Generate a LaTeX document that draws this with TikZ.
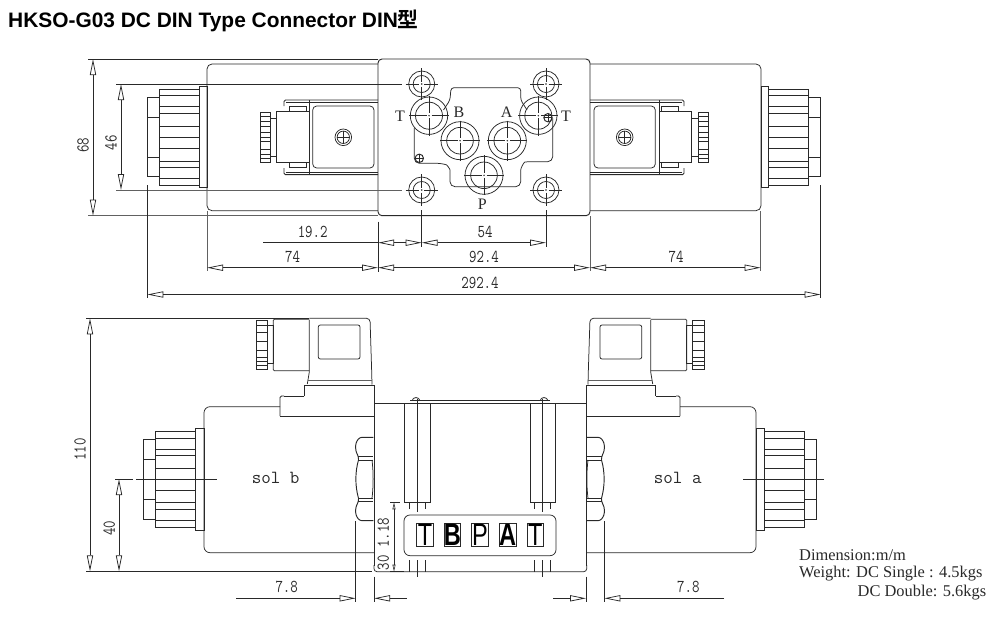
\documentclass[tikz,border=0pt]{standalone}
\usepackage{fontspec}
\usepackage{graphicx}
\usetikzlibrary{arrows.meta}
\setmainfont{Liberation Serif}
\newfontfamily\titlefont{Liberation Sans}[BoldFont={Liberation Sans Bold}]
\newfontfamily\cjkfont{Noto Sans CJK SC}[BoldFont={Noto Sans CJK SC Bold}]
\newfontfamily\platefont{Liberation Sans}[BoldFont={Liberation Sans Bold}]
\newfontfamily\dimfont{Latin Modern Mono}
\definecolor{ink}{gray}{0.16}
\definecolor{inkb}{gray}{0.38}
\newcommand{\HKtall}[1]{\scalebox{1}[1.25]{#1}}
\tikzset{
  ln/.style={draw=ink,line width=0.75pt},
  lg/.style={draw=inkb,line width=0.75pt},
  lt/.style={draw=ink,line width=0.95pt},
  dimboth/.style={draw=ink,line width=0.75pt,{Triangle[open,length=16pt,width=6.2pt]}-{Triangle[open,length=16pt,width=6.2pt]}},
  dimend/.style={draw=ink,line width=0.75pt,-{Triangle[open,length=16pt,width=6.2pt]}},
  dimsmall/.style={draw=ink,line width=0.6pt,{Triangle[open,length=7pt,width=3pt]}-{Triangle[open,length=7pt,width=3pt]}},
  dimtext/.style={font=\dimfont\fontsize{14.5}{15}\selectfont,text=ink,inner sep=0pt},
  soltext/.style={font=\dimfont\fontsize{18.5}{19}\selectfont,text=ink,inner sep=0pt},
  porttext/.style={font=\fontsize{16}{16}\selectfont,text=ink,inner sep=0pt},
  platecell/.style={draw=ink,line width=0.75pt,minimum width=16.7pt,minimum height=23.4pt,inner sep=0pt,outer sep=0pt},
  plateletter/.style={font=\platefont\fontsize{31}{31}\selectfont,text=black,inner sep=0pt,xscale=0.76,transform shape},
  notetext/.style={font=\fontsize{16.4}{17}\selectfont,text=ink,inner sep=0pt,anchor=base west},
}
\newcommand{\HKport}[5]{%
  \draw[ln] (#1,#2) circle (#3pt);
  \draw[ln] (#1,#2) circle (#4pt);
  \fill[ink] (#1,#2) circle (0.8pt);
  \draw[ln] (#1-#5,#2) -- (#1-2.5,#2) (#1+2.5,#2) -- (#1+#5,#2)
            (#1,#2-#5) -- (#1,#2-2.5) (#1,#2+2.5) -- (#1,#2+#5);
}
\newcommand{\HKtarget}[2]{%
  \draw[lt] (#1,#2) circle (4.2pt);
  \draw[lt] (#1-4.2,#2) -- (#1+4.2,#2) (#1,#2-4.2) -- (#1,#2+4.2);
}
% left half of the plan view; mirrored for the right half
\newcommand{\HKcoilTop}{%
  \draw[ln,rounded corners=5pt] (378,64) -- (207,64) -- (207,210.7) -- (378,210.7);
  \draw[ln] (199.3,86) rectangle (207,187.7);
  \draw[ln] (159.3,89.3) rectangle (199.3,185);
  \foreach \yy in {95,106,113.3,126,137.3,148.7,161,167.3,178.3} {\draw[ln] (159.3,\yy) -- (199.3,\yy);}
  \draw[lt] (159.3,113.3) -- (199.3,113.3);
  \draw[ln] (159.3,97.3) -- (147.3,97.3) -- (147.3,176.7) -- (159.3,176.7);
  \draw[ln] (147.3,117.3) -- (159.3,117.3) (147.3,157.3) -- (159.3,157.3);
  \draw[lt,rounded corners=1.5pt] (378,100) -- (284,100) -- (284,106);
  \draw[ln] (286,102.7) -- (378,102.7);
  \draw[lt,rounded corners=1.5pt] (378,174.7) -- (284,174.7) -- (284,168);
  \draw[ln] (286,172) -- (378,172);
  \draw[ln] (309,100) -- (309,174.7);
  \draw[ln,rounded corners=4pt] (312.7,106) rectangle (374,168);
  \draw[ln] (276.7,111.7) rectangle (309,162.7);
  \draw[ln] (289.3,106.7) rectangle (306.7,111.7);
  \draw[ln] (289.3,162.7) rectangle (306.7,167.7);
  \draw[ln] (270,118.3) rectangle (276.7,156);
  \draw[ln] (260,112.3) rectangle (270,162.3);
  \foreach \yy in {116,121.7,126.7,132.7,137.3,141.7,149,154,158.3} {\draw[ln] (260,\yy) -- (270,\yy);}
  \draw[ln] (343.3,137.3) circle (8.3pt);
  \draw[ln] (343.3,137.3) circle (6.2pt);
  \draw[ln] (337,137.3) -- (349.6,137.3) (343.3,131) -- (343.3,143.6);
}
% left half of the side view; mirrored for the right half
\newcommand{\HKcoilSide}{%
  \draw[ln,rounded corners=6pt] (280,406.7) -- (204,406.7) -- (204,552.7) -- (374,552.7);
  \draw[ln] (374,385) -- (304.3,385) -- (304.3,396);
  \draw[lt] (304.3,396) -- (284,396);
  \draw[ln,rounded corners=1.5pt] (284,396) -- (280,396) -- (280,416);
  \draw[lt] (280,416) -- (374,416);
  \draw[ln] (307.3,384) -- (309.3,372) -- (309.3,320);
  \draw[ln,rounded corners=3.5pt] (309.3,318.3) -- (370,318.3) -- (371.7,372) -- (372,384.5);
  \draw[lg] (308,380.7) -- (371.7,380.7);
  \draw[ln,rounded corners=2pt] (318.3,325) rectangle (360,359);
  \draw[ln,rounded corners=1pt] (309.3,319.3) -- (273.3,319.3) -- (273.3,370.7) -- (309.3,370.7);
  \draw[ln] (267.3,325) rectangle (273.3,363.3);
  \draw[ln] (256,320) rectangle (267.3,369.3);
  \foreach \yy in {325,332.7,341.7,350,357.3,361.7,365} {\draw[ln] (256,\yy) -- (267.3,\yy);}
  \draw[ln] (195.7,428.3) rectangle (204,530);
  \draw[ln] (155.7,431) rectangle (195.7,527.3);
  \foreach \yy in {438.3,449,455,468.3,490,502.7,509.3,520} {\draw[ln] (155.7,\yy) -- (195.7,\yy);}
  \draw[lt] (155.7,438.3) -- (195.7,438.3) (155.7,449) -- (195.7,449) (155.7,468.3) -- (195.7,468.3) (155.7,490) -- (195.7,490);
  \draw[ln] (155.7,439) -- (143.3,439) -- (143.3,519.3) -- (155.7,519.3);
  \draw[ln] (143.3,459) -- (155.7,459) (143.3,499) -- (155.7,499);
  \draw[ln] (136,479) -- (216.7,479);
  % nut
  \draw[lt,rounded corners=2.5pt] (373.3,437.3) -- (359.5,437.3) -- (355.7,443) -- (355.7,451) -- (358.5,456.7) -- (358.5,460);
  \draw[lt,rounded corners=2.5pt] (373.3,520.7) -- (359.5,520.7) -- (355.7,515) -- (355.7,507) -- (358.5,501.7) -- (358.5,498.3);
  \draw[lt] (358.5,460) .. controls (355,472) and (355,486) .. (358.5,498.3);
  \draw[ln] (372,460) .. controls (373.5,472) and (373.5,486) .. (372,498.3);
  \draw[ln] (358,456.7) -- (373.3,456.7) (358,460) -- (373.3,460) (358,498.3) -- (373.3,498.3) (358,501.7) -- (373.3,501.7);
  % witness line and 7.8 dimension
  \draw[ln] (355.7,521) -- (355.7,602);
  \draw[ln] (374,576.7) -- (374,602);
  \draw[dimend] (236,598.3) -- (355.7,598.3);
  \draw[dimend] (406.7,598.3) -- (374,598.3);
}
\begin{document}
\begin{tikzpicture}[x=1pt,y=-1pt]
\useasboundingbox (0,0) rectangle (1000,618);
\fill[white] (0,0) rectangle (1000,618);

\node[anchor=west,inner sep=0pt,font=\titlefont\bfseries\fontsize{20.9}{21}\selectfont,text=black] (title) at (8,21)
  {HKSO-G03 DC DIN Type Connector DIN{\cjkfont\bfseries 型}};

% ===== plan view =====
\HKcoilTop
\begin{scope}[xshift=968pt,xscale=-1]
  \HKcoilTop
\end{scope}
\draw[lt,rounded corners=4pt] (378,59) rectangle (590,215.7);

% manifold outline
\draw[ln,rounded corners=3pt] (443.5,110) -- (450,100) -- (451,87.7) -- (520.7,87.7) -- (520.7,100) -- (527,110);
\draw[ln,rounded corners=5pt] (414.3,128) -- (414.3,163.3) -- (441.7,163.3) .. controls (447,165) and (450,169) .. (450,175) -- (450,186.7) -- (520.7,186.7) -- (520.7,175) .. controls (520.7,168) and (524,162) .. (530,161.7) -- (552.7,161.7) -- (552.7,118.3);
\HKport{421.7}{84}{13}{8.5}{16}
\HKport{546}{84}{13}{8.5}{16}
\HKport{421.7}{190}{13}{8.5}{16}
\HKport{546}{190}{13}{8.5}{16}
\HKport{429}{115.7}{18.7}{13.5}{20}
\HKport{538.3}{115.7}{18.7}{13.5}{20}
\HKport{460}{140.7}{19}{13.3}{20}
\HKport{507.3}{140.7}{19}{13.3}{20}
\HKport{484}{175.3}{19}{13.3}{20}
\HKtarget{419.3}{158.3}
\HKtarget{548}{117.7}
\node[porttext] (tl) at (400,116) {T};
\node[porttext] (tr) at (566,116) {T};
\node[porttext] (pb) at (459,112) {B};
\node[porttext] (pa) at (506.7,112) {A};
\node[porttext] (pp) at (482.3,204) {P};

% plan dimensions
\draw[ln] (88,59) -- (378,59);
\draw[lg] (88,215.7) -- (378,215.7);
\draw[ln] (116,84) -- (402,84);
\draw[lg] (116,190) -- (402,190);
\draw[dimboth] (93,59) -- (93,215.7);
\draw[dimboth] (121,84) -- (121,190);
\node[dimtext,rotate=90] (d68) at (83,145) {\HKtall{68}};
\node[dimtext,rotate=90] (d46) at (111,143) {\HKtall{46}};

\draw[lg] (207,211) -- (207,271);
\draw[lt] (378,221.5) -- (378,272);
\draw[lt] (421.7,210) -- (421.7,247);
\draw[lt] (546,210) -- (546,247);
\draw[lg] (590,216) -- (590,271);
\draw[lg] (760.7,211) -- (760.7,271);
\draw[lt] (147.3,185) -- (147.3,298);
\draw[lt] (820.7,185) -- (820.7,298);

\draw[ln] (263.3,242.7) -- (378,242.7);
\draw[dimend] (395,242.7) -- (378,242.7);
\draw[dimend] (404,242.7) -- (421.7,242.7);
\draw[ln] (395,242.7) -- (404,242.7);
\draw[dimboth] (421.7,242.7) -- (546,242.7);
\draw[dimboth] (207,267.7) -- (378,267.7);
\draw[dimboth] (378,267.7) -- (590,267.7);
\draw[dimboth] (590,267.7) -- (760.7,267.7);
\draw[dimboth] (147.3,294.5) -- (820.7,294.5);
\node[dimtext] (d192) at (312.7,232) {\HKtall{19.2}};
\node[dimtext] (d54) at (485,232) {\HKtall{54}};
\node[dimtext] (d74a) at (292.7,257) {\HKtall{74}};
\node[dimtext] (d924) at (484,257) {\HKtall{92.4}};
\node[dimtext] (d74b) at (676,257) {\HKtall{74}};
\node[dimtext] (d2924) at (480,283) {\HKtall{292.4}};

% ===== side view =====
\HKcoilSide
\begin{scope}[xshift=960pt,xscale=-1]
  \HKcoilSide
\end{scope}
\draw[lt] (374,385) -- (374,566) (586.7,385) -- (586.7,566);
\draw[ln] (374,403.3) -- (586.7,403.3);
\draw[ln] (410,400.7) -- (550,400.7);
\draw[ln,rounded corners=3pt] (374,565) -- (374,571.7) -- (586.7,571.7) -- (586.7,565);
\draw[ln] (412,400.7) .. controls (413,396.5) and (419,396.5) .. (420,400.7);
\draw[ln] (540,400.7) .. controls (541,396.5) and (547,396.5) .. (548,400.7);
\draw[lt] (404.3,403.3) -- (404.3,502.3);
\draw[ln] (404.3,502.3) -- (430.7,502.3) -- (430.7,403.3);
\draw[ln] (530,403.3) -- (530,502.3) -- (555.7,502.3) -- (555.7,403.3);
\draw[ln] (417.3,398.5) -- (417.3,511.7) (542.3,398.5) -- (542.3,511.7);
\foreach \xx in {409.3,425,534.3,550} {\draw[ln] (\xx,502.3) -- (\xx,509);}
\foreach \xx in {409.3,425,534.3,550} {\draw[ln] (\xx,560) -- (\xx,571.7);}
\draw[ln] (417.3,560) -- (417.3,576.7) (542.3,560) -- (542.3,576.7);

% name plate
\draw[ln,rounded corners=6pt] (404,515) rectangle (556,555.7);
\node[platecell] (c1) at (425,535) {};
\node[platecell] (c2) at (452.3,535) {};
\node[platecell] (c3) at (480,535) {};
\node[platecell] (c4) at (507.7,535) {};
\node[platecell] (c5) at (535.3,535) {};
\node[plateletter] (t1) at (425,535) {T};
\node[plateletter] (t2) at (452.3,535) {\bfseries B};
\node[plateletter] (t3) at (480,535) {P};
\node[plateletter] (t4) at (507.7,535) {\bfseries A};
\node[plateletter] (t5) at (535.3,535) {T};

% side dimensions
\draw[ln] (86,318.3) -- (309,318.3);
\draw[lt] (86,571.3) -- (372,571.3);
\draw[dimboth] (90,318.3) -- (90,571.3);
\draw[dimboth] (119,479) -- (119,571.3);
\draw[ln] (115,479) -- (132.7,479);
\node[dimtext,rotate=90] (d110) at (80,449.3) {\HKtall{110}};
\node[dimtext,rotate=90] (d40) at (109.3,528) {\HKtall{40}};
\draw[ln] (390,502.3) -- (400,502.3);
\draw[lt] (390,571.7) -- (404,571.7);
\draw[dimsmall] (394,502.3) -- (394,571.7);
\node[dimtext,rotate=90] (d118) at (383.3,544) {\HKtall{30 1.18}};
\node[dimtext] (d78a) at (286.7,587.3) {\HKtall{7.8}};
\node[dimtext] (d78b) at (688.3,587.3) {\HKtall{7.8}};
\node[soltext] (solb) at (275.7,478) {sol b};
\node[soltext] (sola) at (677.7,478) {sol a};

% notes
\node[notetext] (n1) at (799,560) {Dimension:m/m};
\node[notetext] (n2) at (799,577.7) {Weight: DC Single : 4.5kgs};
\node[notetext] (n3) at (857.5,596) {DC Double: 5.6kgs};
\end{tikzpicture}
\end{document}
